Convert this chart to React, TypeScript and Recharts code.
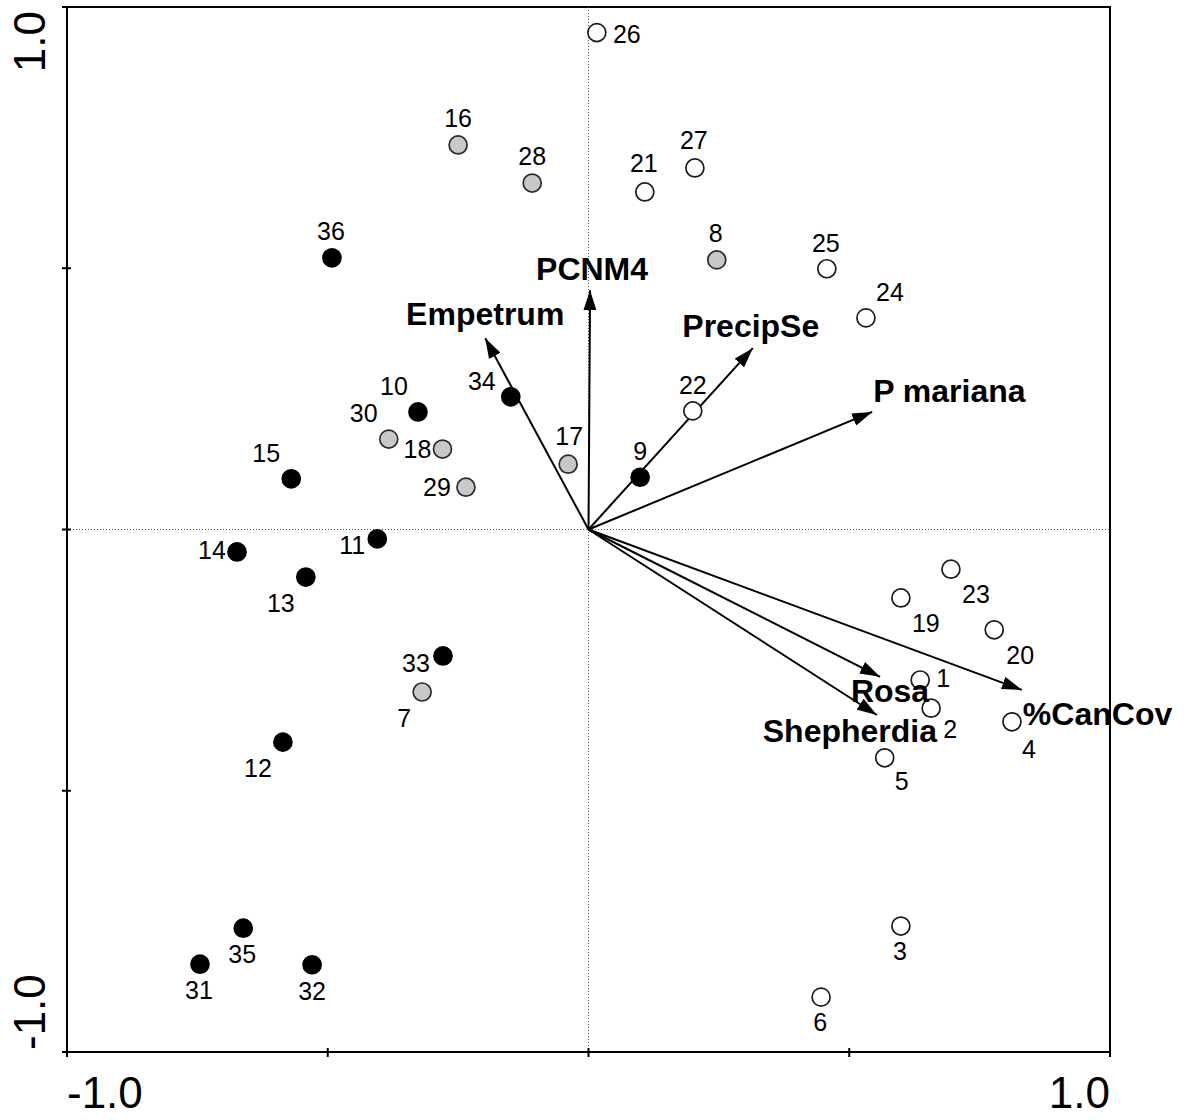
import React from 'react';
import { ScatterChart, Scatter, XAxis, YAxis, ReferenceLine, ReferenceArea } from 'recharts';

// Site scores (axis 1 / axis 2)
const siteIds = [1, 2, 3, 4, 5, 6, 7, 8, 9, 10, 11, 12, 13, 14, 15, 16, 17, 18, 19, 20, 21, 22, 23, 24, 25, 26, 27, 28, 29, 30, 31, 32, 33, 34, 35, 36];
const siteAxis1 = [0.636, 0.657, 0.599, 0.812, 0.568, 0.446, -0.319, 0.246, 0.099, -0.327, -0.405, -0.586, -0.542, -0.674, -0.570, -0.250, -0.039, -0.280, 0.599, 0.778, 0.108, 0.200, 0.695, 0.532, 0.457, 0.016, 0.204, -0.108, -0.235, -0.383, -0.745, -0.530, -0.279, -0.149, -0.662, -0.492];
const siteAxis2 = [-0.288, -0.342, -0.759, -0.368, -0.437, -0.895, -0.311, 0.516, 0.100, 0.225, -0.018, -0.407, -0.091, -0.043, 0.097, 0.736, 0.125, 0.154, -0.131, -0.192, 0.646, 0.227, -0.076, 0.405, 0.499, 0.951, 0.692, 0.663, 0.081, 0.173, -0.832, -0.833, -0.242, 0.254, -0.763, 0.520];
const siteGroup = ['open', 'open', 'open', 'open', 'open', 'open', 'grey', 'grey', 'black', 'black', 'black', 'black', 'black', 'black', 'black', 'grey', 'grey', 'grey', 'open', 'open', 'open', 'open', 'open', 'open', 'open', 'open', 'open', 'grey', 'grey', 'grey', 'black', 'black', 'black', 'black', 'black', 'black'];

// Explanatory vectors (arrow tips)
const vectorNames = ['PCNM4', 'Empetrum', 'PrecipSe', 'P mariana', 'Rosa', 'Shepherdia', '%CanCov'];
const vectorAxis1 = [0.003, -0.198, 0.315, 0.544, 0.559, 0.553, 0.831];
const vectorAxis2 = [0.458, 0.366, 0.347, 0.225, -0.282, -0.355, -0.307];

const axisTicks = [-1, -0.5, 0, 0.5, 1];

const sites = siteIds.map((id, i) => ({ id, x: siteAxis1[i], y: siteAxis2[i], group: siteGroup[i] }));
const vectors = vectorNames.map((name, i) => ({ name, x: vectorAxis1[i], y: vectorAxis2[i] }));

const FONT = '"Liberation Sans", Arial, sans-serif';

const groupStyle: Record<string, { fill: string; stroke: string }> = {
  open: { fill: '#ffffff', stroke: '#1a1a1a' },
  grey: { fill: '#c8c8c8', stroke: '#2a2a2a' },
  black: { fill: '#000000', stroke: '#000000' },
};

// where each site number sits relative to its circle (text centre, px)
const siteLabelNudge: Record<number, [number, number]> = {
  1: [23, -2], 2: [19, 21], 3: [-1, 25], 4: [17, 27], 5: [17, 23], 6: [-1, 25],
  7: [-18, 26], 8: [-1, -27], 9: [0, -26], 10: [-24, -26], 11: [-25, 6], 12: [-25, 26],
  13: [-25, 26], 14: [-25, -2], 15: [-25, -26], 16: [0, -27], 17: [1, -28], 18: [-25, 0],
  19: [25, 25], 20: [26, 25], 21: [-1, -29], 22: [0, -26], 23: [25, 25], 24: [24, -26],
  25: [-1, -26], 26: [30, 1], 27: [-1, -28], 28: [0, -27], 29: [-29, 0], 30: [-25, -26],
  31: [-1, 26], 32: [0, 26], 33: [-27, 7], 34: [-29, -16], 35: [-1, 26], 36: [-1, -27],
};

// vector label placement relative to arrow tip (baseline)
const vectorLabelPos: Record<string, { dx: number; dy: number; anchor: 'start' | 'middle' | 'end' }> = {
  PCNM4: { dx: 2, dy: -10, anchor: 'middle' },
  Empetrum: { dx: 0, dy: -13, anchor: 'middle' },
  PrecipSe: { dx: -2, dy: -11, anchor: 'middle' },
  'P mariana': { dx: 1, dy: -10, anchor: 'start' },
  Rosa: { dx: 10, dy: 25, anchor: 'middle' },
  Shepherdia: { dx: -27, dy: 27, anchor: 'middle' },
  '%CanCov': { dx: 1, dy: 35, anchor: 'start' },
};

const XTick = (props: any) => {
  const { x, y, payload } = props;
  const v = payload.value;
  return (
    <g>
      <line x1={x} y1={y - 4} x2={x} y2={y + 5} stroke="#000" strokeWidth={2} />
      {Math.abs(v) === 1 && (
        <text x={x} y={y + 56} textAnchor={v < 0 ? 'start' : 'end'} fontSize={44} fontFamily={FONT} fill="#000">
          {v.toFixed(1)}
        </text>
      )}
    </g>
  );
};

const YTick = (props: any) => {
  const { x, y, payload } = props;
  const v = payload.value;
  const lx = x - 22;
  const ly = v > 0 ? y + 4 : y - 2;
  return (
    <g>
      <line x1={x - 5} y1={y} x2={x + 4} y2={y} stroke="#000" strokeWidth={2} />
      {Math.abs(v) === 1 && (
        <text x={lx} y={ly} transform={`rotate(-90, ${lx}, ${ly})`} textAnchor={v > 0 ? 'end' : 'start'} fontSize={44} fontFamily={FONT} fill="#000">
          {v.toFixed(1)}
        </text>
      )}
    </g>
  );
};

const SiteMarker = (props: any) => {
  const { cx, cy, payload } = props;
  const st = groupStyle[payload.group];
  const [dx, dy] = siteLabelNudge[payload.id] ?? [0, -27];
  return (
    <g>
      <circle cx={cx} cy={cy} r={9} fill={st.fill} stroke={st.stroke} strokeWidth={1.7} />
      <text x={cx + dx} y={cy + dy + 9} textAnchor="middle" fontSize={25} fontFamily={FONT} fill="#000">
        {payload.id}
      </text>
    </g>
  );
};

const VectorLabel = (props: any) => {
  const { cx, cy, payload } = props;
  const p = vectorLabelPos[payload.name];
  return (
    <text x={cx + p.dx} y={cy + p.dy} textAnchor={p.anchor} fontSize={32} fontWeight="bold" fontFamily={FONT} fill="#000">
      {payload.name}
    </text>
  );
};

export default function App() {
  return (
    <div style={{ position: 'absolute', left: 0, top: 0, width: 1187, height: 1120, background: '#fff' }}>
      <svg width={0} height={0} style={{ position: 'absolute' }}>
        <defs>
          <marker id="vecHead" viewBox="0 0 20 13" refX="20" refY="6.5" markerWidth="20" markerHeight="13" markerUnits="userSpaceOnUse" orient="auto">
            <path d="M0,0 L20,6.5 L0,13 Z" fill="#000" />
          </marker>
        </defs>
      </svg>
      <ScatterChart width={1187} height={1120} margin={{ top: 7, right: 77, bottom: 8, left: 8 }}>
        <XAxis
          type="number"
          dataKey="x"
          domain={[-1, 1]}
          ticks={axisTicks}
          interval={0}
          height={60}
          axisLine={false}
          tickLine={false}
          tickSize={0}
          tickMargin={0}
          tick={<XTick />}
        />
        <YAxis
          type="number"
          dataKey="y"
          domain={[-1, 1]}
          ticks={axisTicks}
          interval={0}
          width={59}
          axisLine={false}
          tickLine={false}
          tickSize={0}
          tickMargin={0}
          tick={<YTick />}
        />
        <ReferenceLine x={0} stroke="#555" strokeWidth={1} strokeDasharray="1 2" />
        <ReferenceLine y={0} stroke="#555" strokeWidth={1} strokeDasharray="1 2" />
        <ReferenceArea x1={-1} x2={1} y1={-1} y2={1} fill="none" fillOpacity={0} stroke="#000" strokeWidth={2} />
        {vectors.map((v) => (
          <ReferenceLine
            key={v.name}
            segment={[{ x: 0, y: 0 }, { x: v.x, y: v.y }]}
            stroke="#000"
            strokeWidth={2}
            markerEnd="url(#vecHead)"
            ifOverflow="visible"
          />
        ))}
        <Scatter data={sites} shape={<SiteMarker />} isAnimationActive={false} />
        <Scatter data={vectors} shape={<VectorLabel />} isAnimationActive={false} />
      </ScatterChart>
    </div>
  );
}
